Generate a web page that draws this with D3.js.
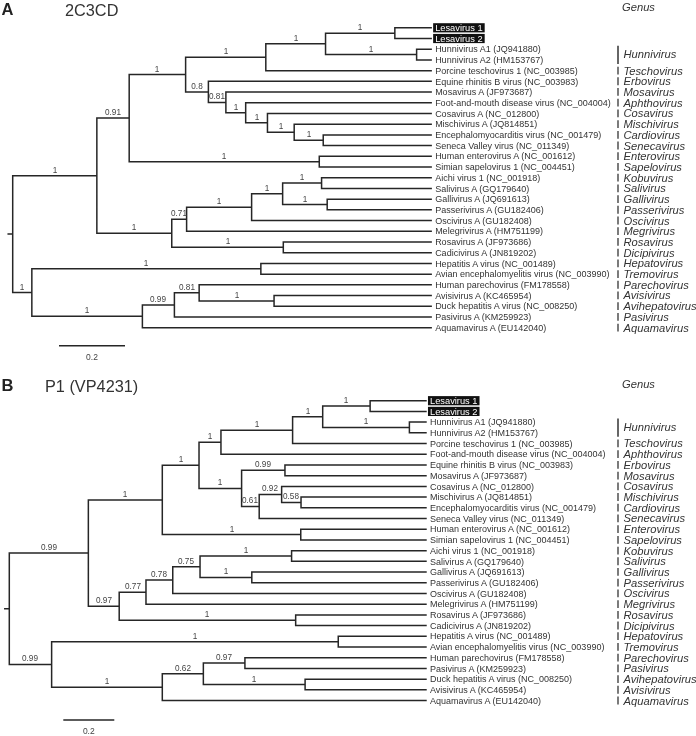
<!DOCTYPE html>
<html><head><meta charset="utf-8">
<script src="https://cdn.jsdelivr.net/npm/d3@7"></script>
<style>body{margin:0;background:#fff}svg{display:block;will-change:transform}text{-webkit-font-smoothing:antialiased}</style>
</head><body><svg id="c" width="696" height="736"></svg>
<script>
// ---------------- Panel A : 2C3CD ----------------
const leavesA = [
  "Lesavirus 1","Lesavirus 2",
  "Hunnivirus A1 (JQ941880)","Hunnivirus A2 (HM153767)",
  "Porcine teschovirus 1 (NC_003985)","Equine rhinitis B virus (NC_003983)",
  "Mosavirus A (JF973687)","Foot-and-mouth disease virus (NC_004004)",
  "Cosavirus A (NC_012800)","Mischivirus A (JQ814851)",
  "Encephalomyocarditis virus (NC_001479)","Seneca Valley virus (NC_011349)",
  "Human enterovirus A (NC_001612)","Simian sapelovirus 1 (NC_004451)",
  "Aichi virus 1 (NC_001918)","Salivirus A (GQ179640)",
  "Gallivirus A (JQ691613)","Passerivirus A (GU182406)",
  "Oscivirus A (GU182408)","Melegrivirus A (HM751199)",
  "Rosavirus A (JF973686)","Cadicivirus A (JN819202)",
  "Hepatitis A virus (NC_001489)","Avian encephalomyelitis virus (NC_003990)",
  "Human parechovirus (FM178558)","Avisivirus A (KC465954)",
  "Duck hepatitis A virus (NC_008250)","Pasivirus A (KM259923)",
  "Aquamavirus A (EU142040)"
];
const leafParentsA = [
  "lesa","lesa","hunni","hunni","a1a","a1b","a1b2","a1b2b","c","d","e","e",
  "a2","a2","b1a1a","b1a1a","b1a1b","b1a1b","b1a","b1","b2","b2",
  "c1","c1","c2a1","c2a1b","c2a1b","c2a","c2"
];
const genusA = [
  "","","Hunnivirus","Hunnivirus","Teschovirus","Erbovirus","Mosavirus","Aphthovirus",
  "Cosavirus","Mischivirus","Cardiovirus","Senecavirus","Enterovirus","Sapelovirus",
  "Kobuvirus","Salivirus","Gallivirus","Passerivirus","Oscivirus","Megrivirus",
  "Rosavirus","Dicipivirus","Hepatovirus","Tremovirus","Parechovirus","Avisivirus",
  "Avihepatovirus","Pasivirus","Aquamavirus"
];
// [node id, parent id, distance from root, posterior support]
const nodesA = [
  ["root",null,0,""],
  ["X","root",0.255,"1"],
  ["a","X",0.353,"0.91"],
  ["a1","a",0.524,"1"],
  ["a1a","a1",0.767,"1"],
  ["a1a1","a1a",0.948,"1"],
  ["lesa","a1a1",1.158,"1"],
  ["hunni","a1a1",1.224,"1"],
  ["a1b","a1",0.593,"0.8"],
  ["a1b2","a1b",0.646,"0.81"],
  ["a1b2b","a1b2",0.706,"1"],
  ["c","a1b2b",0.772,"1"],
  ["d","c",0.853,"1"],
  ["e","d",0.941,"1"],
  ["a2","a",0.929,"1"],
  ["b","X",0.482,"1"],
  ["b1","b",0.527,"0.71"],
  ["b1a","b1",0.724,"1"],
  ["b1a1","b1a",0.818,"1"],
  ["b1a1a","b1a1",0.936,"1"],
  ["b1a1b","b1a1",0.953,"1"],
  ["b2","b",0.820,"1"],
  ["L","root",0.058,"1"],
  ["c1","L",0.752,"1"],
  ["c2","L",0.393,"1"],
  ["c2a","c2",0.490,"0.99"],
  ["c2a1","c2a",0.565,"0.81"],
  ["c2a1b","c2a1",0.792,"1"]
];
const tipDepthA = 1.268;

// ---------------- Panel B : P1 (VP4231) ----------------
const leavesB = [
  "Lesavirus 1","Lesavirus 2",
  "Hunnivirus A1 (JQ941880)","Hunnivirus A2 (HM153767)",
  "Porcine teschovirus 1 (NC_003985)","Foot-and-mouth disease virus (NC_004004)",
  "Equine rhinitis B virus (NC_003983)","Mosavirus A (JF973687)",
  "Cosavirus A (NC_012800)","Mischivirus A (JQ814851)",
  "Encephalomyocarditis virus (NC_001479)","Seneca Valley virus (NC_011349)",
  "Human enterovirus A (NC_001612)","Simian sapelovirus 1 (NC_004451)",
  "Aichi virus 1 (NC_001918)","Salivirus A (GQ179640)",
  "Gallivirus A (JQ691613)","Passerivirus A (GU182406)",
  "Oscivirus A (GU182408)","Melegrivirus A (HM751199)",
  "Rosavirus A (JF973686)","Cadicivirus A (JN819202)",
  "Hepatitis A virus (NC_001489)","Avian encephalomyelitis virus (NC_003990)",
  "Human parechovirus (FM178558)","Pasivirus A (KM259923)",
  "Duck hepatitis A virus (NC_008250)","Avisivirus A (KC465954)",
  "Aquamavirus A (EU142040)"
];
const leafParentsB = [
  "lesa","lesa","hunni","hunni","U1a1a","U1a1","U1a2a","U1a2a","U1a2b1","U1a2b1b","U1a2b1b","U1a2b",
  "U1b","U1b","U2a1a1","U2a1a1","U2a1a2","U2a1a2","U2a1","U2a","U2b","U2b",
  "L1","L1","L2a1","L2a1","L2a2","L2a2","L2"
];
const genusB = [
  "","","Hunnivirus","Hunnivirus","Teschovirus","Aphthovirus","Erbovirus","Mosavirus",
  "Cosavirus","Mischivirus","Cardiovirus","Senecavirus","Enterovirus","Sapelovirus",
  "Kobuvirus","Salivirus","Gallivirus","Passerivirus","Oscivirus","Megrivirus",
  "Rosavirus","Dicipivirus","Hepatovirus","Tremovirus","Parechovirus","Pasivirus",
  "Avihepatovirus","Avisivirus","Aquamavirus"
];
const nodesB = [
  ["root",null,0,""],
  ["U","root",0.310,"0.99"],
  ["U1","U",0.600,"1"],
  ["U1a","U1",0.744,"1"],
  ["U1a1","U1a",0.830,"1"],
  ["U1a1a","U1a1",1.111,"1"],
  ["U1a1a1","U1a1a",1.229,"1"],
  ["lesa","U1a1a1",1.415,"1"],
  ["hunni","U1a1a1",1.569,"1"],
  ["U1a2","U1a",0.911,"1"],
  ["U1a2a","U1a2",1.081,"0.99"],
  ["U1a2b","U1a2",0.980,"0.61"],
  ["U1a2b1","U1a2b",1.068,"0.92"],
  ["U1a2b1b","U1a2b1",1.144,"0.58"],
  ["U1b","U1",1.143,"1"],
  ["U2","U",0.431,"0.97"],
  ["U2a","U2",0.536,"0.77"],
  ["U2a1","U2a",0.641,"0.78"],
  ["U2a1a","U2a1",0.748,"0.75"],
  ["U2a1a1","U2a1a",1.107,"1"],
  ["U2a1a2","U2a1a",0.951,"1"],
  ["U2b","U2",1.123,"1"],
  ["L","root",0.166,"0.99"],
  ["L1","L",1.290,"1"],
  ["L2","L",0.600,"1"],
  ["L2a","L2",0.761,"0.62"],
  ["L2a1","L2a",0.924,"0.97"],
  ["L2a2","L2a",1.160,"1"]
];
const tipDepthB = 1.634;
const scaleBarValue = 0.2;

const FONT = "'Liberation Sans', Arial, Helvetica, sans-serif";
const svg = d3.select("#c");

function drawPanel(cfg) {
  const g = svg.append("g");
  const tg = svg.append("g");
  const rows = cfg.nodes.map(([id, parent, depth, support]) => ({id, parent, depth, support}))
    .concat(cfg.leaves.map((name, i) => ({id: "leaf" + i, parent: cfg.leafParents[i], depth: cfg.tipDepth, name, index: i})));
  const root = d3.stratify().id(d => d.id).parentId(d => d.parent)(rows);
  const x = d3.scaleLinear().domain([0, 1]).range([cfg.rootX, cfg.rootX + cfg.pxPerUnit]);
  const y = d3.scaleLinear().domain([0, cfg.leaves.length - 1])
    .range([cfg.y0, cfg.y0 + cfg.step * (cfg.leaves.length - 1)]);
  root.eachAfter(n => {
    n.xx = x(n.data.depth);
    if (!n.children) n.yy = y(n.data.index);
    else {
      const ys = n.children.map(c => c.yy);
      n.y1 = d3.min(ys); n.y2 = d3.max(ys);
      n.yy = (n.y1 + n.y2) / 2;
    }
  });
  const lineCol = "#262626";
  const paths = [];
  root.each(n => {
    if (n.parent) paths.push(`M${n.parent.xx},${n.yy}H${n.xx}`);
    if (n.children) paths.push(`M${n.xx},${n.y1}V${n.y2}`);
  });
  paths.push(`M${root.xx - 4.5},${root.yy}H${root.xx}`);
  g.append("path").attr("d", paths.join("")).attr("fill", "none")
    .attr("stroke", lineCol).attr("stroke-width", 1.5).attr("stroke-linecap", "square");

  // support values
  root.descendants().filter(n => n.parent && n.children && n.data.support).forEach(n => {
    tg.append("text").attr("x", Math.round((n.parent.xx + n.xx) / 2)).attr("y", n.yy - 3)
      .attr("text-anchor", "middle").attr("font-family", FONT).attr("font-size", 8.2)
      .attr("fill", "#444").text(n.data.support);
  });

  // leaf labels
  const tipX = x(cfg.tipDepth);
  root.leaves().forEach(n => {
    const name = n.data.name;
    const hl = name.startsWith("Lesavirus");
    if (hl) {
      const t0 = tg.append("text").attr("font-family", FONT).attr("font-size", 9.3).text(name);
      const w = t0.node().getComputedTextLength();
      t0.remove();
      tg.append("rect").attr("x", tipX + 2).attr("y", n.yy - 4.6)
        .attr("width", w + 4).attr("height", 9.2).attr("fill", "#111");
    }
    tg.append("text").attr("x", tipX + 4).attr("y", n.yy).attr("dy", "0.35em")
      .attr("font-family", FONT).attr("font-size", hl ? 9.3 : 9)
      .attr("fill", hl ? "#fff" : "#333").text(name);
  });

  // genus column
  tg.append("text").attr("x", cfg.genusX + 4).attr("y", cfg.genusHeadY)
    .attr("font-family", FONT).attr("font-size", 11.2).attr("font-style", "italic")
    .attr("fill", "#333").text("Genus");
  const groups = [];
  cfg.genus.forEach((gname, i) => {
    if (!gname) return;
    const last = groups[groups.length - 1];
    if (last && last.name === gname && last.end === i - 1) last.end = i;
    else groups.push({name: gname, start: i, end: i});
  });
  groups.forEach(gr => {
    const ya = y(gr.start), yb = y(gr.end);
    const multi = gr.end > gr.start;
    g.append("line").attr("x1", cfg.genusX).attr("x2", cfg.genusX)
      .attr("y1", multi ? ya - 3.5 : ya - 4).attr("y2", multi ? yb + 4 : yb + 3.8)
      .attr("stroke", "#333").attr("stroke-width", multi ? 1.5 : 1.3);
    tg.append("text").attr("x", cfg.genusX + 5.5).attr("y", (ya + yb) / 2).attr("dy", "0.35em")
      .attr("font-family", FONT).attr("font-size", 11.2).attr("font-style", "italic")
      .attr("fill", "#333").text(gr.name);
  });

  // scale bar
  const barLen = x(scaleBarValue) - x(0);
  g.append("line").attr("x1", cfg.barX).attr("x2", cfg.barX + barLen)
    .attr("y1", cfg.barY).attr("y2", cfg.barY).attr("stroke", lineCol).attr("stroke-width", 1.5);
  tg.append("text").attr("x", cfg.barX + barLen / 2).attr("y", cfg.barY + 14)
    .attr("text-anchor", "middle").attr("font-family", FONT).attr("font-size", 8.5)
    .attr("fill", "#444").text(String(scaleBarValue));

  // panel letter and title
  tg.append("text").attr("x", 1.5).attr("y", cfg.letterY).attr("font-family", FONT)
    .attr("font-size", 16.5).attr("font-weight", "bold").attr("fill", "#222").text(cfg.letter);
  tg.append("text").attr("x", cfg.titleX).attr("y", cfg.letterY + 0.5).attr("font-family", FONT)
    .attr("font-size", 16.3).attr("fill", "#333").text(cfg.title);
}

drawPanel({
  leaves: leavesA, leafParents: leafParentsA, nodes: nodesA, genus: genusA,
  tipDepth: tipDepthA, rootX: 12.7, pxPerUnit: 330, y0: 27.8, step: 10.71,
  genusX: 618, genusHeadY: 11, barX: 59, barY: 345.7,
  letter: "A", title: "2C3CD", titleX: 65, letterY: 15.3
});
drawPanel({
  leaves: leavesB, leafParents: leafParentsB, nodes: nodesB, genus: genusB,
  tipDepth: tipDepthB, rootX: 9.3, pxPerUnit: 255, y0: 400.7, step: 10.71,
  genusX: 618, genusHeadY: 388, barX: 63.3, barY: 720,
  letter: "B", title: "P1 (VP4231)", titleX: 45, letterY: 391.3
});
</script>
</body></html>
